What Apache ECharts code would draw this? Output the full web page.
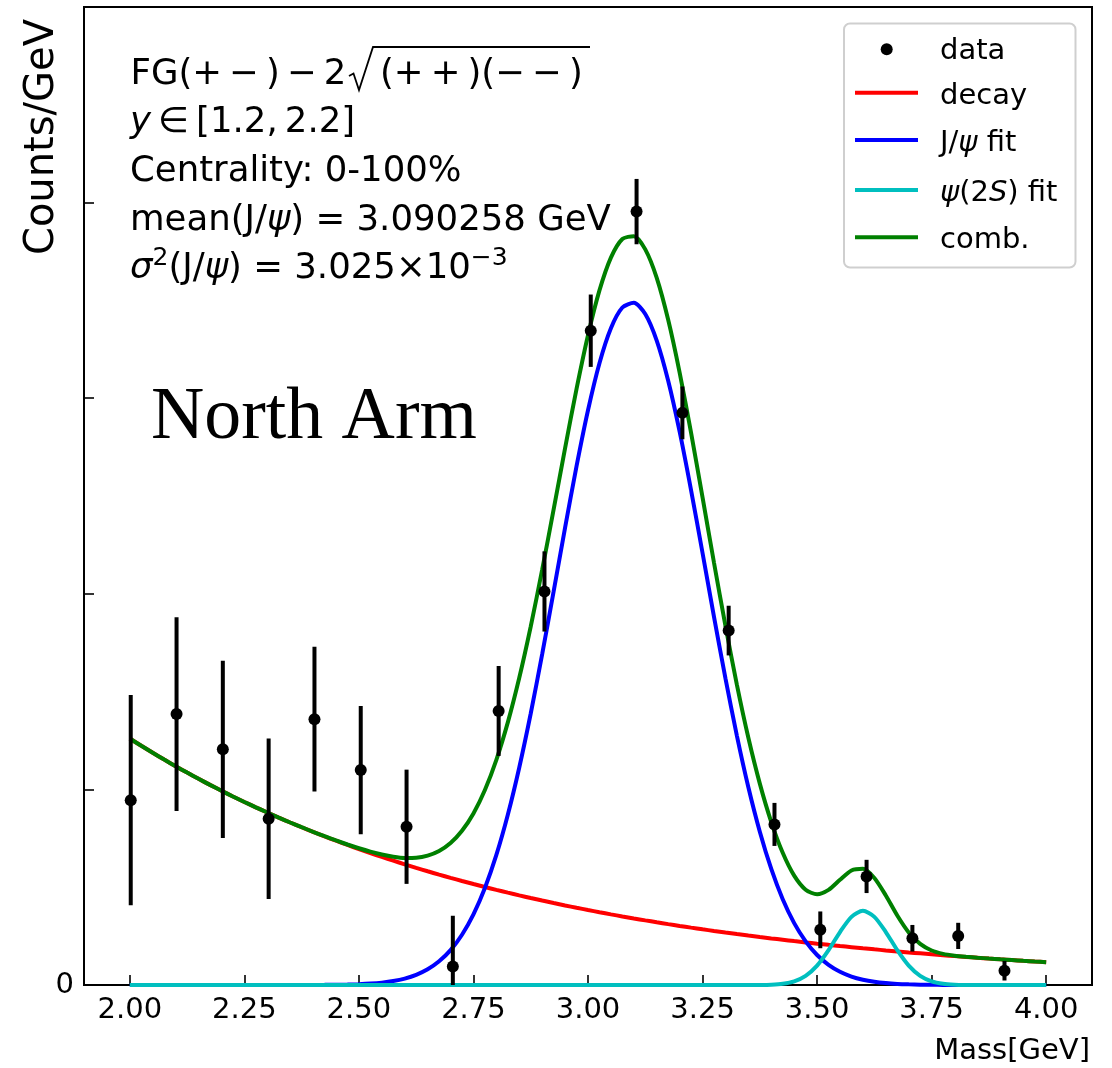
<!DOCTYPE html>
<html><head><meta charset="utf-8">
<script src="https://cdn.jsdelivr.net/npm/echarts@6/dist/echarts.min.js"></script>
<style>html,body{margin:0;padding:0;background:#fff}#c{width:1112px;height:1068px}</style>
</head><body><div id="c"></div>
<script>
// ---- data ----
const massPoints = [2.002, 2.102, 2.203, 2.303, 2.403, 2.504, 2.604, 2.705, 2.805, 2.905, 3.006, 3.106, 3.206, 3.307, 3.407, 3.507, 3.608, 3.708, 3.808, 3.909];
const countsPoints = [0.945, 1.385, 1.205, 0.850, 1.359, 1.099, 0.809, 0.094, 1.401, 2.012, 3.345, 3.954, 2.925, 1.812, 0.821, 0.282, 0.555, 0.239, 0.251, 0.073];
const countsErr = [0.537, 0.495, 0.453, 0.410, 0.370, 0.328, 0.292, 0.260, 0.230, 0.205, 0.185, 0.167, 0.135, 0.127, 0.110, 0.094, 0.085, 0.068, 0.067, 0.050];

const fitMass = [2.000,2.025,2.050,2.075,2.100,2.125,2.150,2.175,2.200,2.225,2.250,2.275,2.300,2.325,2.350,2.375,
  2.400,2.425,2.450,2.475,2.500,2.525,2.550,2.575,2.600,2.625,2.650,2.675,2.700,2.725,2.750,2.775,
  2.800,2.825,2.850,2.875,2.900,2.925,2.950,2.975,3.000,3.025,3.050,3.075,3.100,3.125,3.150,3.175,
  3.200,3.225,3.250,3.275,3.300,3.325,3.350,3.375,3.400,3.425,3.450,3.475,3.500,3.525,3.550,3.575,
  3.600,3.625,3.650,3.675,3.700,3.725,3.750,3.775,3.800,3.825,3.850,3.875,3.900,3.925,3.950,3.975,4.000];
const decayFit = [1.2600,1.2231,1.1872,1.1524,1.1186,1.0858,1.0540,1.0231,0.9931,0.9640,0.9358,0.9084,0.8818,0.8559,0.8308,0.8065,
  0.7828,0.7599,0.7376,0.7160,0.6950,0.6746,0.6549,0.6357,0.6170,0.5989,0.5814,0.5643,0.5478,0.5317,0.5161,0.5010,
  0.4863,0.4721,0.4582,0.4448,0.4318,0.4191,0.4068,0.3949,0.3833,0.3721,0.3612,0.3506,0.3403,0.3303,0.3207,0.3113,
  0.3021,0.2933,0.2847,0.2763,0.2682,0.2604,0.2527,0.2453,0.2381,0.2312,0.2244,0.2178,0.2114,0.2052,0.1992,0.1934,
  0.1877,0.1822,0.1769,0.1717,0.1666,0.1618,0.1570,0.1524,0.1479,0.1436,0.1394,0.1353,0.1313,0.1275,0.1237,0.1201,0.1166];
const jpsiFit = [0,0,0,0,0,0,0,0,0,0,0,0,0,0,0.0001,0.0002,
  0.0004,0.0007,0.0013,0.0023,0.0041,0.0072,0.0122,0.0202,0.0328,0.0519,0.0802,0.1211,0.1785,0.2571,0.3612,0.4960,
  0.6648,0.8704,1.1123,1.3880,1.6913,2.0123,2.3380,2.6527,2.9386,3.1790,3.3577,3.4635,3.4883,3.4307,3.2946,3.0893,
  2.8290,2.5292,2.2085,1.8825,1.5674,1.2739,1.0110,0.7839,0.5933,0.4383,0.3162,0.2230,0.1533,0.1030,0.0676,0.0433,
  0.0271,0.0165,0.0099,0.0057,0.0033,0.0018,0.0010,0.0005,0.0003,0.0002,0.0001,0,0,0,0,0,0];
const psi2sFit = [0,0,0,0,0,0,0,0,0,0,0,0,0,0,0,0,
  0,0,0,0,0,0,0,0,0,0,0,0,0,0,0,0,
  0,0,0,0,0,0,0,0,0,0,0,0,0,0,0,0,
  0,0,0,0,0,0,0.0001,0.0004,0.0018,0.0062,0.0184,0.0464,0.0988,0.1779,0.2708,0.3484,
  0.3790,0.3484,0.2708,0.1779,0.0988,0.0464,0.0184,0.0062,0.0018,0.0004,0.0001,0,0,0,0,0,0];
const combFit = [1.2600,1.2231,1.1872,1.1524,1.1186,1.0858,1.0540,1.0231,0.9931,0.9640,0.9358,0.9084,0.8818,0.8559,0.8309,0.8067,
  0.7832,0.7606,0.7389,0.7183,0.6991,0.6818,0.6671,0.6559,0.6498,0.6508,0.6616,0.6854,0.7263,0.7888,0.8773,0.9970,
  1.1511,1.3425,1.5705,1.8328,2.1231,2.4314,2.7448,3.0476,3.3219,3.5511,3.7189,3.8141,3.8286,3.7610,3.6153,3.4006,
  3.1311,2.8225,2.4932,2.1588,1.8356,1.5343,1.2638,1.0296,0.8332,0.6757,0.5590,0.4872,0.4635,0.4861,0.5376,0.5851,
  0.5938,0.5471,0.4576,0.3553,0.2687,0.2100,0.1764,0.1591,0.1500,0.1442,0.1396,0.1353,0.1313,0.1275,0.1237,0.1201,0.1166];

const xTickValues = [2.00, 2.25, 2.50, 2.75, 3.00, 3.25, 3.50, 3.75, 4.00];
const yTickValues = [0, 1, 2, 3, 4];
const yLabelValues = [0];

const legendNames = ['data', 'decay', 'J/ψ fit', 'ψ(2S) fit', 'comb.'];

// ---- chart ----
const FONT = 'DejaVu Sans';
function pairs(xs, ys) { return xs.map((x, i) => [x, ys[i]]); }

const chart = echarts.init(document.getElementById('c'), null, { renderer: 'canvas' });

function lineSeries(name, ys, color, z) {
  return {
    name, type: 'line', data: pairs(fitMass, ys), showSymbol: false, symbol: 'none',
    smooth: 0.25, lineStyle: { color, width: 4 }, itemStyle: { color }, z, animation: false
  };
}

function txt(x, y, text, size, extra) {
  return {
    type: 'text', x, y, silent: true,
    style: Object.assign({ text, fill: '#000', fontSize: size, fontFamily: FONT,
      align: 'left', verticalAlign: 'middle' }, extra || {})
  };
}
const S = 35.5;
const LH = 46;
const richI = {
  i: { fontSize: S, fontStyle: 'italic', fontFamily: FONT, lineHeight: LH },
  n: { fontSize: S, fontFamily: FONT, lineHeight: LH },
  s: { fontSize: 25, fontFamily: FONT, lineHeight: 25, verticalAlign: 'top' }
};
const LS = 29;
const richL = { i: { fontSize: LS, fontStyle: 'italic', fontFamily: FONT } };
const TS = '\u2009';

const graphics = [
  // info text block
  txt(130.5, 74.5, 'FG(+' + TS + '\u2212' + TS + ')' + TS + '\u2212' + TS + '2', S),
  { type: 'polyline', silent: true, shape: { points: [[349, 76], [353.5, 73.5], [359, 90], [373, 47], [590, 47]] },
    style: { stroke: '#000', lineWidth: 1.8, fill: null } },
  txt(380, 74.5, '(+' + TS + '+' + TS + ')(\u2212' + TS + '\u2212' + TS + ')', S),
  txt(130, 122.5, '{i|y}' + TS + '∈' + TS + '[1.2,' + TS + '2.2]', S, { rich: richI }),
  txt(130, 171.8, 'Centrality: 0-100%', S),
  txt(130, 220.4, 'mean(J/{i|ψ}) = 3.090258 GeV', S, { rich: richI }),
  txt(130, 269.2, '{i|σ}{s|2}{n|(J/}{i|ψ}{n|) = 3.025×10}{s|\u22123}', S, { rich: richI, lineHeight: LH }),
  // North Arm
  { type: 'text', x: 151, y: 419, silent: true,
    style: { text: 'North Arm', fill: '#000', fontSize: 73.8, fontFamily: 'Liberation Serif', align: 'left', verticalAlign: 'middle' } },
  // y axis title
  { type: 'text', x: 43, y: 137, rotation: Math.PI / 2, silent: true,
    style: { text: 'Counts/GeV', fill: '#000', fontSize: 40, fontFamily: FONT, align: 'center', verticalAlign: 'middle' } },
  // legend box
  { type: 'rect', silent: true, shape: { x: 844, y: 23.5, width: 231.5, height: 244, r: 6 },
    style: { fill: 'rgba(255,255,255,0.85)', stroke: '#cfcfcf', lineWidth: 2 }, z: 10 },
  { type: 'circle', silent: true, shape: { cx: 886.7, cy: 49.3, r: 6 }, style: { fill: '#000' }, z: 11 },
  { type: 'line', silent: true, shape: { x1: 855, y1: 92.7, x2: 918, y2: 92.7 }, style: { stroke: '#ff0000', lineWidth: 4 }, z: 11 },
  { type: 'line', silent: true, shape: { x1: 855, y1: 140, x2: 918, y2: 140 }, style: { stroke: '#0000ff', lineWidth: 4 }, z: 11 },
  { type: 'line', silent: true, shape: { x1: 855, y1: 190, x2: 918, y2: 190 }, style: { stroke: '#00bfbf', lineWidth: 4 }, z: 11 },
  { type: 'line', silent: true, shape: { x1: 855, y1: 237.3, x2: 918, y2: 237.3 }, style: { stroke: '#008000', lineWidth: 4 }, z: 11 },
  Object.assign(txt(940, 51.5, legendNames[0], LS), { z: 11 }),
  Object.assign(txt(940, 96, legendNames[1], LS), { z: 11 }),
  Object.assign(txt(940, 143, 'J/{i|ψ} fit', LS, { rich: richL }), { z: 11 }),
  Object.assign(txt(940, 193, '{i|ψ}(2{i|S}) fit', LS, { rich: richL }), { z: 11 }),
  Object.assign(txt(940, 240.5, legendNames[4], LS), { z: 11 })
];

const option = {
  animation: false,
  backgroundColor: '#fff',
  textStyle: { fontFamily: FONT },
  grid: { left: 84, top: 7, width: 1008, height: 978, show: true, borderColor: '#000', borderWidth: 2,
    containLabel: false, outerBoundsMode: 'none' },
  xAxis: {
    type: 'value', min: 1.9, max: 4.1,
    name: 'Mass[GeV]', nameLocation: 'end', nameGap: -2,
    nameTextStyle: { fontSize: 29, fontFamily: FONT, color: '#000', align: 'right', verticalAlign: 'top', padding: [52, 0, 0, 0] },
    axisLine: { show: true, onZero: false, lineStyle: { color: '#000', width: 2 } },
    axisTick: { show: true, inside: true, length: 10, lineStyle: { color: '#000', width: 1.6 }, customValues: xTickValues },
    axisLabel: { show: true, customValues: xTickValues, formatter: v => Number(v).toFixed(2), fontSize: 29, fontFamily: FONT, color: '#000', margin: 11 },
    splitLine: { show: false }
  },
  yAxis: {
    type: 'value', min: 0, max: 5,
    axisLine: { show: true, onZero: false, lineStyle: { color: '#000', width: 2 } },
    axisTick: { show: true, inside: true, length: 10, lineStyle: { color: '#000', width: 1.6 }, customValues: yTickValues },
    axisLabel: { show: true, customValues: yLabelValues, formatter: v => String(v), fontSize: 29, fontFamily: FONT, color: '#000', margin: 10 },
    splitLine: { show: false }
  },
  series: [
    lineSeries('decay', decayFit, '#ff0000', 2),
    lineSeries('J/ψ fit', jpsiFit, '#0000ff', 3),
    lineSeries('ψ(2S) fit', psi2sFit, '#00bfbf', 4),
    lineSeries('comb.', combFit, '#008000', 5),
    {
      name: 'data error', type: 'custom', clip: true, z: 6,
      data: massPoints.map((x, i) => [x, countsPoints[i], countsErr[i]]),
      encode: { x: 0, y: 1 },
      renderItem: (params, api) => {
        const x = api.value(0), y = api.value(1), e = api.value(2);
        const p1 = api.coord([x, y + e]);
        const p2 = api.coord([x, y - e]);
        return { type: 'line', shape: { x1: p1[0], y1: p1[1], x2: p2[0], y2: p2[1] },
          style: { stroke: '#000', lineWidth: 4 } };
      }
    },
    {
      name: 'data', type: 'scatter', data: pairs(massPoints, countsPoints), symbol: 'circle', symbolSize: 12,
      itemStyle: { color: '#000', opacity: 1 }, z: 7
    }
  ],
  graphic: graphics
};
chart.setOption(option);
</script>
</body></html>
